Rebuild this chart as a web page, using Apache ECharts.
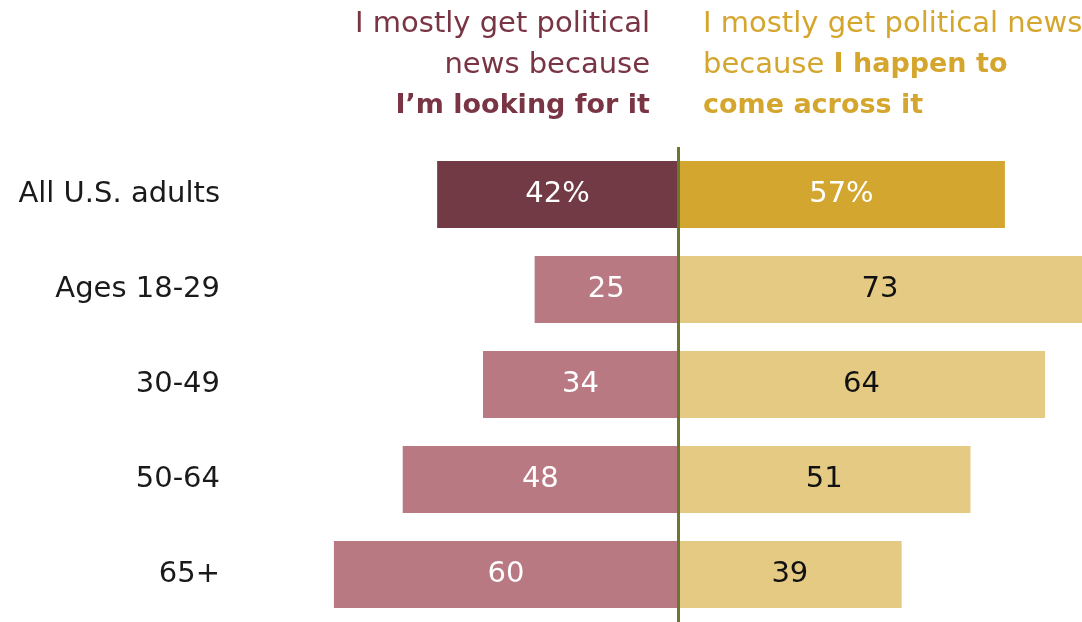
<!DOCTYPE html>
<html>
<head>
<meta charset="utf-8">
<title>Looking for political news vs. coming across it</title>
<script src="https://cdn.jsdelivr.net/npm/echarts@6/dist/echarts.min.js"></script>
<style>
  html, body { margin: 0; padding: 0; background: #ffffff; }
  #chart { width: 1082px; height: 622px; }
</style>
</head>
<body>
<div id="chart"></div>
<script>
// Groups shown as rows, top to bottom
const categories = ['All U.S. adults', 'Ages 18-29', '30-49', '50-64', '65+'];
// Share who mostly get political news because they look for it (%)
const lookingFor = [42, 25, 34, 48, 60];
// Share who mostly get political news because they happen to come across it (%)
const comeAcross = [57, 73, 64, 51, 39];

// Layout: where zero sits and how many pixels one point spans;
// the axis runs to the right edge of the canvas, so long bars are cut there
const W = 1082;
const zeroX = 678;
const pxPerPoint = 5.735;
const xMin = -60;
const xMax = (W - zeroX) / pxPerPoint;
const gridLeft = zeroX + xMin * pxPerPoint;

const FONT = '"DejaVu Sans", "Liberation Sans", sans-serif';
const MAROON_DARK = '#723a45', MAROON_LIGHT = '#b97983';
const GOLD_DARK = '#d3a630', GOLD_LIGHT = '#e5ca84';
const HEAD_LEFT = '#7a3545', HEAD_RIGHT = '#d4a62e';

const chart = echarts.init(document.getElementById('chart'), null, { renderer: 'canvas' });

const leftData = lookingFor.map((v, i) => ({
  value: -v,
  itemStyle: { color: i === 0 ? MAROON_DARK : MAROON_LIGHT },
  label: { color: '#ffffff' }
}));
const rightData = comeAcross.map((v, i) => ({
  value: v,
  itemStyle: { color: i === 0 ? GOLD_DARK : GOLD_LIGHT },
  label: { color: i === 0 ? '#ffffff' : '#111111' }
}));

const fmt = p => Math.abs(p.value) + (p.dataIndex === 0 ? '%' : '');

chart.setOption({
  animation: false,
  backgroundColor: '#ffffff',
  grid: { left: gridLeft, right: 0, top: 147, bottom: -1, containLabel: false },
  xAxis: {
    type: 'value', min: xMin, max: xMax, show: false
  },
  yAxis: {
    type: 'category', data: categories, inverse: true,
    axisLine: { show: false }, axisTick: { show: false }, splitLine: { show: false },
    axisLabel: {
      margin: gridLeft - 220, fontSize: 29, color: '#1a1a1a', fontFamily: FONT
    }
  },
  series: [
    {
      name: 'Looking for it', type: 'bar', stack: 'total', barWidth: 67,
      data: leftData,
      label: { show: true, position: 'inside', fontSize: 29, fontFamily: FONT, formatter: fmt },
      markLine: {
        silent: true, symbol: 'none', label: { show: false },
        lineStyle: { color: '#6b772c', width: 3, type: 'solid' },
        data: [{ xAxis: 0 }]
      },
      z: 2
    },
    {
      name: 'Come across it', type: 'bar', stack: 'total', barWidth: 67,
      data: rightData,
      label: { show: true, position: 'inside', fontSize: 29, fontFamily: FONT, formatter: fmt },
      z: 2
    }
  ],
  graphic: [
    { type: 'text', x: 650, y: 24, style: { text: 'I mostly get political', align: 'right', verticalAlign: 'middle', fill: HEAD_LEFT, font: '29px ' + FONT } },
    { type: 'text', x: 650, y: 65, style: { text: 'news because', align: 'right', verticalAlign: 'middle', fill: HEAD_LEFT, font: '29px ' + FONT } },
    { type: 'text', x: 650, y: 106, style: { text: 'I\u2019m looking for it', align: 'right', verticalAlign: 'middle', fill: HEAD_LEFT, font: 'bold 27px ' + FONT } },
    { type: 'text', x: 703, y: 24, style: { text: 'I mostly get political news', align: 'left', verticalAlign: 'middle', fill: HEAD_RIGHT, font: '29px ' + FONT } },
    { type: 'text', x: 703, y: 65, style: {
        text: '{n|because }{b|I happen to}', align: 'left', verticalAlign: 'middle', fill: HEAD_RIGHT,
        rich: {
          n: { fontSize: 29, fontFamily: FONT, fill: HEAD_RIGHT },
          b: { fontSize: 27, fontWeight: 'bold', fontFamily: FONT, fill: HEAD_RIGHT }
        }
    } },
    { type: 'text', x: 703, y: 106, style: { text: 'come across it', align: 'left', verticalAlign: 'middle', fill: HEAD_RIGHT, font: 'bold 27px ' + FONT } }
  ]
});
</script>
</body>
</html>
